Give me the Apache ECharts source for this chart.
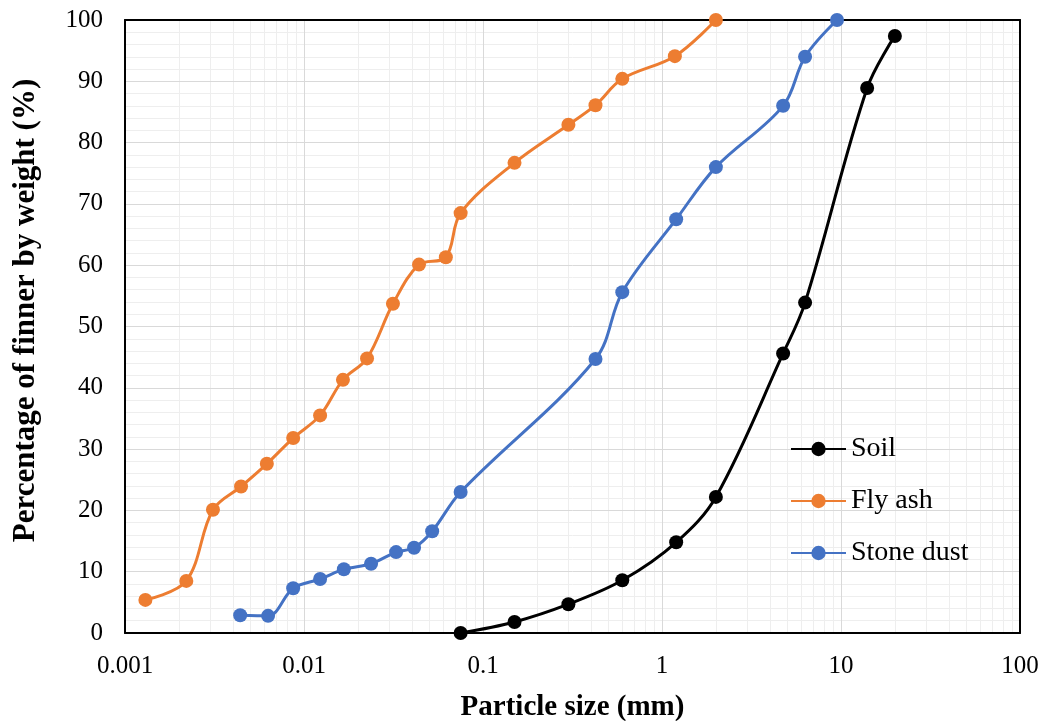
<!DOCTYPE html>
<html>
<head>
<meta charset="utf-8">
<script src="https://cdn.jsdelivr.net/npm/echarts@6/dist/echarts.min.js"></script>
<style>
  html, body { margin: 0; padding: 0; background: #fff; }
  #chart { width: 1045px; height: 721px; }
</style>
</head>
<body>
<div id="chart"></div>
<script>
// particle size distribution, log x axis

const soilSize = [0.075, 0.15, 0.3, 0.6, 1.2, 2.0, 4.75, 6.3, 14, 20]
const soilPass = [0, 1.8, 4.7, 8.6, 14.8, 22.2, 45.6, 53.9, 88.9, 97.4]

const flyAshSize = [0.0013, 0.0022, 0.0031, 0.00445, 0.0062, 0.0087, 0.0123, 0.0165, 0.0225,
  0.0314, 0.0439, 0.062, 0.075, 0.15, 0.3, 0.425, 0.6, 1.18, 2.0]
const flyAshPass = [5.4, 8.5, 20.1, 23.9, 27.6, 31.8, 35.5, 41.3, 44.8,
  53.7, 60.1, 61.3, 68.5, 76.7, 82.9, 86.1, 90.4, 94.1, 100]

const stoneSize = [0.0044, 0.0063, 0.0087, 0.0123, 0.0167, 0.0237, 0.0327, 0.0412, 0.052,
  0.075, 0.425, 0.6, 1.2, 2.0, 4.75, 6.3, 9.5]
const stonePass = [2.9, 2.8, 7.3, 8.8, 10.4, 11.3, 13.2, 13.9, 16.6,
  23.0, 44.7, 55.6, 67.5, 76.0, 86.0, 94.0, 100]

const xTicks = [0.001, 0.01, 0.1, 1, 10, 100]

// minor vertical grid lines: 2..9 in every decade
const minorX = []
for (let i = 0; i < xTicks.length - 1; i++) {
  for (let k = 2; k <= 9; k++) minorX.push(+(k * xTicks[i]).toPrecision(3))
}

const FONT = '"Liberation Serif", "Times New Roman", serif'
const X_MIN = 0.001, X_MAX = 100, Y_MIN = 0, Y_MAX = 100

const chart = echarts.init(document.getElementById('chart'), null, { renderer: 'canvas' })

function pairs(xs, ys) {
  return xs.map((x, i) => [x, ys[i]])
}

function lineSeries(name, color, xs, ys) {
  return {
    name,
    type: 'line',
    data: pairs(xs, ys),
    smooth: 0.35,
    symbol: 'circle',
    symbolSize: 14,
    z: 6,
    itemStyle: { color },
    lineStyle: { color, width: 3 },
  }
}

// frame-only axis (top / right side of the box)
const frameAxis = (type, position, min, max) => ({
  type, position, min, max, z: 5,
  axisLine: { show: true, onZero: false, lineStyle: { color: '#000', width: 2 } },
  axisTick: { show: false },
  axisLabel: { show: false },
  splitLine: { show: false },
})

chart.setOption({
  animation: false,
  backgroundColor: '#fff',
  textStyle: { fontFamily: FONT },
  grid: { left: 125, right: 25, top: 20, bottom: 88, outerBoundsMode: 'none', containLabel: false },
  legend: {
    orient: 'vertical',
    left: 790,
    top: 435,
    padding: 0,
    itemWidth: 55,
    itemHeight: 18,
    itemGap: 24,
    textStyle: { fontFamily: FONT, fontSize: 28, color: '#000' },
    data: ['Soil', 'Fly ash', 'Stone dust'],
  },
  xAxis: [
    {
      type: 'log',
      logBase: 10,
      min: X_MIN,
      max: X_MAX,
      z: 4,
      name: 'Particle size (mm)',
      nameLocation: 'middle',
      nameGap: 60,
      nameTextStyle: { fontFamily: FONT, fontSize: 29, fontWeight: 'bold', color: '#000' },
      axisLine: { onZero: false, lineStyle: { color: '#000', width: 2 } },
      axisTick: { show: false },
      axisLabel: {
        margin: 21, fontSize: 25, color: '#000', fontFamily: FONT,
        formatter: (v) => String(v),
      },
      splitLine: { show: true, lineStyle: { color: '#d9d9d9', width: 1 } },
    },
    frameAxis('log', 'top', X_MIN, X_MAX),
  ],
  yAxis: [
    {
      type: 'value',
      min: Y_MIN,
      max: Y_MAX,
      interval: 10,
      z: 4,
      name: 'Percentage of finner by weight (%)',
      nameLocation: 'middle',
      nameGap: 84,
      nameTextStyle: {
        fontFamily: FONT, fontSize: 31, fontWeight: 'bold', color: '#000',
        padding: [0, 0, 0, 32],
      },
      axisLine: { show: true, onZero: false, lineStyle: { color: '#000', width: 2 } },
      axisTick: { show: false },
      axisLabel: { margin: 22, fontSize: 25, color: '#000', fontFamily: FONT },
      splitLine: { show: true, lineStyle: { color: '#d9d9d9', width: 1 } },
      minorTick: { show: false, splitNumber: 5 },
      minorSplitLine: { show: true, lineStyle: { color: '#eeeeee', width: 1 } },
    },
    frameAxis('value', 'right', Y_MIN, Y_MAX),
  ],
  series: [
    {
      name: 'minor-grid',
      type: 'custom',
      silent: true,
      z: 1,
      data: minorX.map((v) => [v]),
      encode: { x: 0 },
      renderItem: (params, api) => {
        const v = api.value(0)
        const top = api.coord([v, Y_MAX])
        const bot = api.coord([v, Y_MIN])
        const x = Math.round(top[0]) + 0.5
        return {
          type: 'line',
          shape: { x1: x, y1: top[1], x2: x, y2: bot[1] },
          style: { stroke: '#eeeeee', lineWidth: 1 },
        }
      },
    },
    lineSeries('Soil', '#000000', soilSize, soilPass),
    lineSeries('Fly ash', '#ED7D31', flyAshSize, flyAshPass),
    lineSeries('Stone dust', '#4472C4', stoneSize, stonePass),
  ],
})
</script>
</body>
</html>
